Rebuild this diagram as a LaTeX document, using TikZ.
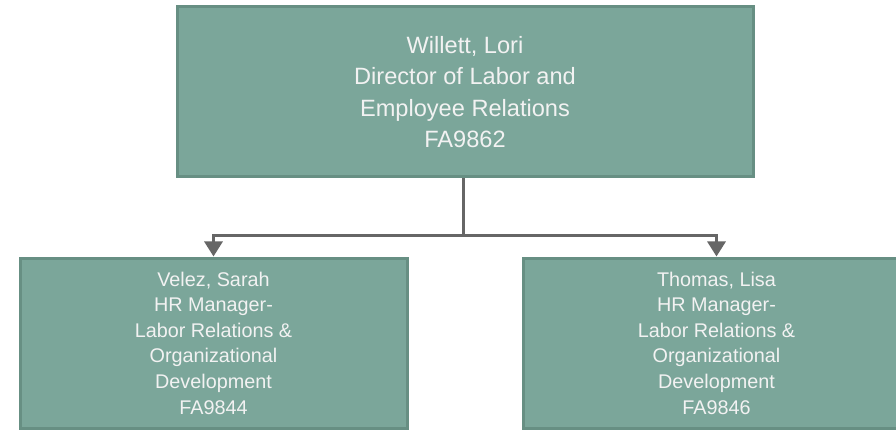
\documentclass[tikz,border=0pt]{standalone}
\usepackage{fontspec}
\setmainfont{Liberation Sans}
\usetikzlibrary{arrows.meta}
\definecolor{boxfill}{HTML}{7BA69A}
\definecolor{boxline}{HTML}{678F83}
\definecolor{conn}{HTML}{666666}
\begin{document}
\begin{tikzpicture}[x=1pt,y=1pt,
  orgbox/.style={draw=boxline, line width=3pt, fill=boxfill, text=white!95!black, align=center, inner sep=0pt},
  conline/.style={draw=conn, line width=3pt},
  tip/.style={-{Triangle[length=15pt,width=18pt]}}]
\useasboundingbox (0,0) rectangle (896,-430);
\node[orgbox, minimum width=576pt, minimum height=170pt, font=\fontsize{23.6}{31.5}\selectfont] (top) at (465,-92)
  {Willett, Lori\\Director of Labor and\\Employee Relations\\FA9862};
\node[orgbox, minimum width=387pt, minimum height=170pt, font=\fontsize{19.8}{25.6}\selectfont] (left) at (213.5,-343)
  {Velez, Sarah\\HR Manager-\\Labor Relations \&\\Organizational\\Development\\FA9844};
\node[orgbox, minimum width=387pt, minimum height=170pt, font=\fontsize{19.8}{25.6}\selectfont] (right) at (716.5,-343)
  {Thomas, Lisa\\HR Manager-\\Labor Relations \&\\Organizational\\Development\\FA9846};
\coordinate (j) at ([xshift=-2pt]top.south |- 0,-236);
\draw[conline] ([xshift=-2pt]top.south) -- (j);
\draw[conline, tip] (j) -| (left.north);
\draw[conline, tip] (j) -| (right.north);
\end{tikzpicture}
\end{document}
